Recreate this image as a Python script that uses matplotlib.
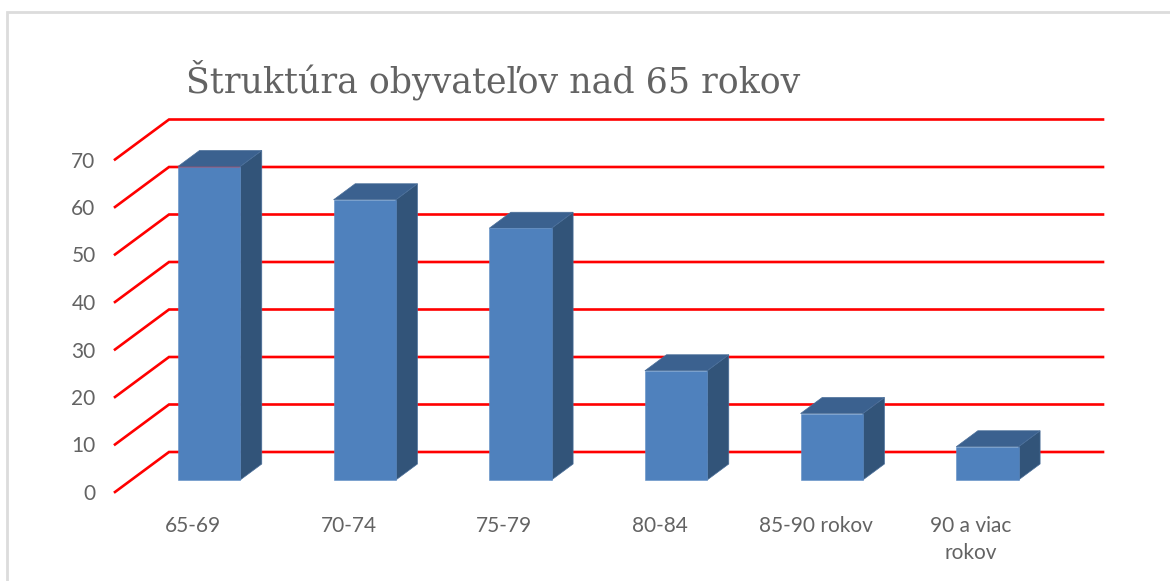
import matplotlib
matplotlib.use("Agg")
import matplotlib.pyplot as plt
from matplotlib.patches import Polygon, Rectangle

# values
categories = ["65-69", "70-74", "75-79", "80-84", "85-90 rokov", "90 a viac\nrokov"]
values = [66, 59, 53, 23, 14, 7]
y_ticks = [0, 10, 20, 30, 40, 50, 60, 70]
title = "Štruktúra obyvateľov nad 65 rokov"

W, H = 1170, 581
front = "#4F81BD"
side = "#325479"
top = "#3B618F"
grid = "#FF0000"
txt = "#636363"

fig = plt.figure(figsize=(W / 100, H / 100), dpi=100)
# front plane of the 3d box: x 115-1049 px, y 492-159.5 px
ax = fig.add_axes([115 / W, 1 - 492 / H, 934 / W, 332.5 / H])
ax.set_xlim(-0.5, 5.5)
ax.set_ylim(0, 70)
for s in ax.spines.values():
    s.set_visible(False)

# depth of the box in data units
dx = 54 / (934 / 6)
dy = 40 / 4.75
bar_w = 0.4

# walls
for v in y_ticks:
    ax.plot([-0.5, -0.5 + dx, 5.5 + dx], [v, v + dy, v + dy], color=grid, lw=1.9,
            clip_on=False, zorder=1, solid_joinstyle="miter")

# bars sit in the middle of the depth
x0 = 0.3 * dx
y0 = 0.3 * dy
bx = 0.4 * dx
by = 0.4 * dy
for i, v in enumerate(values):
    l = i + x0 - bar_w / 2
    r = i + x0 + bar_w / 2
    t = y0 + v
    ax.add_patch(Polygon([(r, y0), (r + bx, y0 + by), (r + bx, t + by), (r, t)], closed=True,
                         fc=side, ec="#4A6E99", lw=0.5, clip_on=False, zorder=3))
    ax.add_patch(Polygon([(l, t), (r, t), (r + bx, t + by), (l + bx, t + by)], closed=True,
                         fc=top, ec="#4A6E99", lw=0.5, clip_on=False, zorder=3))
ax.bar([i + x0 for i in range(len(values))], values, bottom=y0, width=bar_w,
       color=front, edgecolor="#5F8DC4", linewidth=0.4, zorder=4, clip_on=False)

ax.set_yticks(y_ticks)
ax.set_yticklabels([str(v) for v in y_ticks], fontfamily="Lato", fontsize=15, color=txt)
ax.tick_params(axis="y", length=0, pad=14)
ax.set_xticks(range(len(categories)))
ax.set_xticklabels(categories, fontfamily="Lato", fontsize=15, color=txt, linespacing=1.45, va="top")
ax.tick_params(axis="x", length=0, pad=17)

fig.text(186 / W, 1 - 92 / H, title, fontfamily="DejaVu Serif", fontsize=25, color=txt,
         ha="left", va="baseline")

# frame of the screenshot
fig.add_artist(Rectangle((7 / W, -0.1), (W + 50) / W, 1 - 12 / H + 0.1, transform=fig.transFigure,
                         fill=False, ec="#DCDCDC", lw=2))

fig.savefig("out.png", dpi=100)
